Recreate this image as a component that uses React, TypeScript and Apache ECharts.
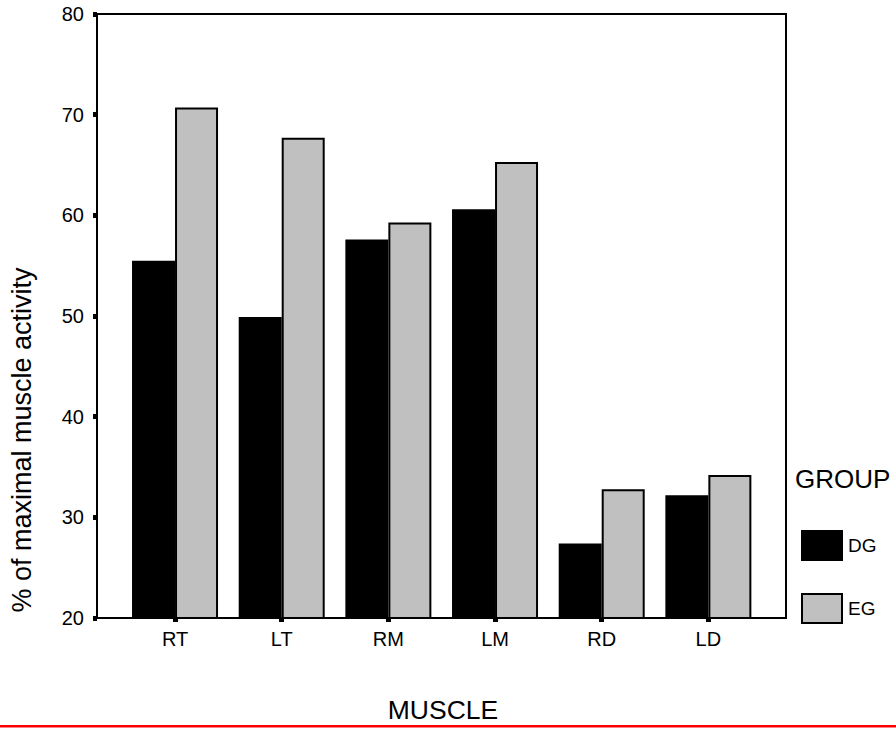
import React, { useEffect, useRef } from "react";
import * as echarts from "echarts";

const categories = ["RT", "LT", "RM", "LM", "RD", "LD"];
const dgValues = [55.5, 49.9, 57.6, 60.6, 27.4, 32.2];
const egValues = [70.7, 67.7, 59.3, 65.3, 32.8, 34.2];
const yTicks = { min: 20, max: 80, interval: 10 };
const seriesNames = ["DG", "EG"];

const FONT = "'Liberation Sans', Arial, sans-serif";

export default function App() {
  const ref = useRef<HTMLDivElement>(null);
  useEffect(() => {
    document.body.style.margin = "0";
    const chart = echarts.init(ref.current!, null, { renderer: "svg" });
    chart.setOption({
      animation: false,
      backgroundColor: "#ffffff",
      textStyle: { fontFamily: FONT },
      grid: [
        { left: 97, top: 14, width: 689, height: 604, show: true, borderColor: "#000", borderWidth: 2, backgroundColor: "transparent" },
        { left: 121.7, top: 14, width: 640, height: 604 },
      ],
      xAxis: [
        { gridIndex: 0, type: "value", min: 0, max: 1, show: false },
        {
          gridIndex: 1,
          type: "category",
          data: categories,
          axisLine: { show: false },
          axisTick: { show: true, alignWithLabel: true, length: 4, lineStyle: { color: "#000", width: 5 } },
          axisLabel: { color: "#000", fontSize: 20, margin: 11, fontFamily: FONT },
          splitLine: { show: false },
        },
      ],
      yAxis: [
        {
          gridIndex: 0,
          type: "value",
          min: yTicks.min,
          max: yTicks.max,
          interval: yTicks.interval,
          axisLine: { show: true, lineStyle: { color: "#000", width: 2 } },
          axisTick: { show: true, length: 4, lineStyle: { color: "#000", width: 5 } },
          axisLabel: { color: "#000", fontSize: 20, margin: 13, fontFamily: FONT },
          splitLine: { show: false },
        },
        { gridIndex: 1, type: "value", min: yTicks.min, max: yTicks.max, interval: yTicks.interval, show: false },
      ],
      legend: {
        orient: "vertical",
        left: 801,
        top: 530,
        padding: 0,
        itemWidth: 40,
        itemHeight: 29,
        itemGap: 32,
        selectedMode: false,
        icon: "rect",
        textStyle: { color: "#000", fontSize: 19, fontFamily: FONT, padding: [0, 0, 0, 1] },
        data: seriesNames,
      },
      series: [
        {
          name: seriesNames[0],
          type: "bar",
          xAxisIndex: 1,
          yAxisIndex: 1,
          data: dgValues,
          barWidth: 43,
          barGap: "0%",
          itemStyle: { color: "#000000", borderColor: "#000", borderWidth: 2 },
        },
        {
          name: seriesNames[1],
          type: "bar",
          xAxisIndex: 1,
          yAxisIndex: 1,
          data: egValues,
          barWidth: 43,
          barGap: "0%",
          itemStyle: { color: "#c0c0c0", borderColor: "#000", borderWidth: 2 },
        },
      ],
      graphic: [
        {
          type: "text",
          x: 22,
          y: 440,
          rotation: Math.PI / 2,
          style: {
            text: "% of maximal muscle activity",
            x: 0,
            y: 0,
            fill: "#000",
            font: `27px ${FONT}`,
            textAlign: "center",
            textVerticalAlign: "middle",
          },
        },
        {
          type: "text",
          x: 443,
          y: 710,
          style: {
            text: "MUSCLE",
            x: 0,
            y: 0,
            fill: "#000",
            font: `26.5px ${FONT}`,
            textAlign: "center",
            textVerticalAlign: "middle",
          },
        },
        {
          type: "text",
          x: 795,
          y: 479,
          style: {
            text: "GROUP",
            x: 0,
            y: 0,
            fill: "#000",
            font: `26px ${FONT}`,
            textAlign: "left",
            textVerticalAlign: "middle",
          },
        },
        {
          type: "rect",
          shape: { x: 0, y: 725, width: 896, height: 2.5 },
          style: { fill: "#ff0000" },
        },
      ],
    });
    return () => chart.dispose();
  }, []);
  return <div ref={ref} style={{ width: 896, height: 729 }} />;
}
